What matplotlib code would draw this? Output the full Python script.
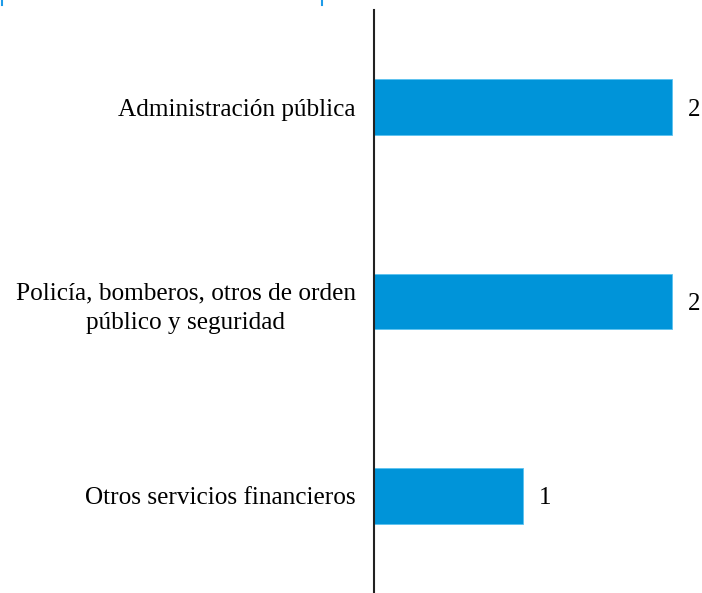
import matplotlib.pyplot as plt
from matplotlib.lines import Line2D

categories = ["Administración pública",
              "Policía, bomberos, otros de orden\npúblico y seguridad",
              "Otros servicios financieros"]
values = [2, 2, 1]
bar_color = "#0094D9"

plt.rcParams['font.family'] = ['Liberation Serif', 'DejaVu Serif']

fig = plt.figure(figsize=(7.02, 5.93), dpi=100)
ax = fig.add_axes([374 / 702, 0, 328 / 702, 583 / 593])

pos = list(range(len(categories)))
ax.barh(pos, values, height=0.286, color=bar_color, edgecolor="#5BC2F0", linewidth=0.6)
ax.set_ylim(len(categories) - 0.5, -0.5)
ax.set_xlim(0, 2.2)
ax.set_yticks(pos)
ax.set_yticklabels(categories, fontsize=18.2, multialignment='center', linespacing=1.45)
ax.tick_params(axis='y', length=0, pad=13)
ax.set_xticks([])
for s in ['top', 'right', 'bottom']:
    ax.spines[s].set_visible(False)
ax.spines['left'].set_linewidth(1.5)
ax.spines['left'].set_color('#222222')

for p, v in zip(pos, values):
    ax.annotate(str(v), (v, p), xytext=(11, 0), textcoords='offset points',
                va='center_baseline', ha='left', fontsize=18)

# small blue marks at top edge (crop remnants)
for x in [2, 322]:
    fig.add_artist(Line2D([x / 702, x / 702], [1, 1 - 5 / 593], color="#1E9BE8", lw=1.5))

fig.savefig("out.png", dpi=100)
